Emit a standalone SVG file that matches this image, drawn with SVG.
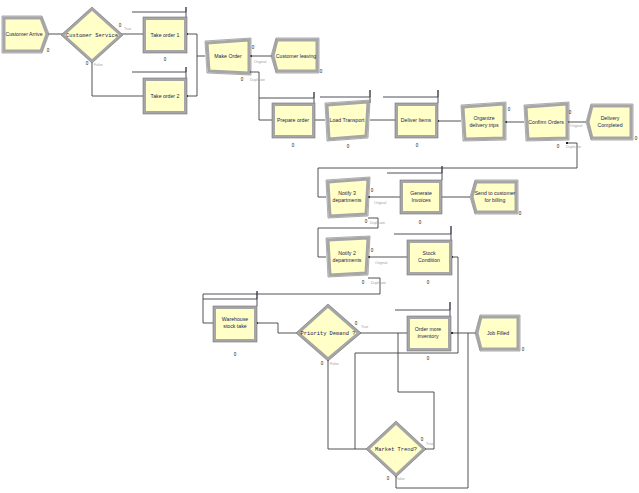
<svg xmlns="http://www.w3.org/2000/svg" width="639" height="493" viewBox="0 0 639 493">
<style>
.bg{fill:#ffffff}
.shp{fill:#FFFFC8;stroke:#a6a6a6;stroke-width:3;stroke-linejoin:miter}
.edge{fill:none;stroke:#767676;stroke-width:0.6}
.t{font-family:"Liberation Sans",Arial,sans-serif;font-size:5.2px;fill:#1c1c50;text-anchor:middle}
.dt{font-family:"Liberation Mono","Courier New",monospace;font-size:5.4px;fill:#1c1c50;text-anchor:middle}
.cnt{font-family:"Liberation Sans",Arial,sans-serif;font-size:4.5px;fill:#111;text-anchor:middle}
.lab{font-family:"Liberation Sans",Arial,sans-serif;font-size:3.6px;fill:#a0a0a0}
.c{fill:none;stroke:#404040;stroke-width:0.9}
.res{fill:none;stroke:#3a3a4a;stroke-width:0.9}
.pt{fill:#222}
</style>
<rect class="bg" x="0" y="0" width="639" height="493"/>

<g id="connectors">
<polyline class="c" points="48,34 63,34"/>
<polyline class="c" points="121,34 143,34"/>
<polyline class="c" points="92,62 92,96 143,96"/>
<polyline class="c" points="187,34 197,34 197,56 205,56"/>
<polyline class="c" points="187,96 197,96 197,56"/>
<polyline class="c" points="251,56 272,56"/>
<polyline class="c" points="250,72 259,72 259,120 272,120"/>
<polyline class="c" points="315,120 325,120"/>
<polyline class="c" points="370,120 395,120"/>
<polyline class="c" points="438,121 461,121"/>
<polyline class="c" points="506,122 524,122"/>
<polyline class="c" points="568,122 586,122"/>
<polyline class="c" points="567,143 577,143 577,168 318,168 318,197 326,197"/>
<polyline class="c" points="369,197 400,197"/>
<polyline class="c" points="442,197 470,197"/>
<polyline class="c" points="368,218 378,218 378,228 318,228 318,257 326,257"/>
<polyline class="c" points="370,257 407,257"/>
<polyline class="c" points="368,278 380,278 380,294 203,294 203,323 213,323"/>
<polyline class="c" points="257,323 278,323 278,333 297,333"/>
<polyline class="c" points="360,333 407,333"/>
<polyline class="c" points="328,360 328,449 367,449"/>
<polyline class="c" points="452,257 458,257 458,353 355,353 355,449"/>
<polyline class="c" points="452,333 476,333"/>
<polyline class="c" points="425,449 434,449 434,392 398,392 398,333"/>
<polyline class="c" points="396,476 396,488 468,488 468,333"/>
<!-- resource bars -->
<polyline class="res" points="132,12 186,12 186,7 186,17"/>
<polyline class="res" points="132,72 186,72 186,67 186,78"/>
<polyline class="res" points="259,98 314,98 314,92 314,103"/>
<polyline class="res" points="320,97 370,97 370,90 370,103"/>
<polyline class="res" points="383,97 438,97 438,90 438,103"/>
<polyline class="res" points="387,173 442,173 442,166 442,180"/>
<polyline class="res" points="394,234 451,234 451,226 451,240"/>
<polyline class="res" points="203,299 257,299 257,291 257,306"/>
<polyline class="res" points="395,310 450,310 450,302 450,316"/>
<!-- exit points -->
<rect class="pt" x="46" y="33" width="2" height="2"/>
<rect class="pt" x="186" y="33" width="2" height="2"/>
<rect class="pt" x="186" y="95" width="2" height="2"/>
<rect class="pt" x="250" y="55" width="2" height="2"/>
<rect class="pt" x="249" y="71" width="2" height="2"/>
<rect class="pt" x="313" y="119" width="2" height="2"/>
<rect class="pt" x="437" y="120" width="2" height="2"/>
<rect class="pt" x="505" y="121" width="2" height="2"/>
<rect class="pt" x="567" y="121" width="2" height="2"/>
<rect class="pt" x="566" y="142" width="2" height="2"/>
<rect class="pt" x="368" y="196" width="2" height="2"/>
<rect class="pt" x="368" y="256" width="2" height="2"/>
<rect class="pt" x="451" y="256" width="2" height="2"/>
<rect class="pt" x="256" y="322" width="2" height="2"/>
<rect class="pt" x="451" y="332" width="2" height="2"/>
<rect class="pt" x="359" y="332" width="2" height="2"/>
<rect class="pt" x="327" y="359" width="2" height="2"/>
<rect class="pt" x="424" y="448" width="2" height="2"/>
<rect class="pt" x="395" y="475" width="2" height="2"/>
</g>

<g id="customer-arrive">
<polygon class="shp" points="4,18 41,18 47,34 41,51 4,51"/>
<polygon class="edge" points="2,16 42,16 49,34 42,53 2,53"/>
<text class="t" x="24" y="36">Customer Arrive</text>
<text class="cnt" x="48" y="52">0</text>
</g>

<g id="customer-service">
<polygon class="shp" points="92,9 121,35 92,61 63,35"/>
<polygon class="edge" points="92,7 123,35 92,63 61,35"/>
<text class="dt" x="92" y="37">Customer Service</text>
<text class="cnt" x="120" y="27">0</text>
<text class="lab" x="124" y="30">True</text>
<text class="cnt" x="87" y="65">0</text>
<text class="lab" x="94" y="66">False</text>
</g>

<g id="take-order-1">
<rect class="shp" x="144.5" y="18.5" width="41" height="33"/>
<rect class="edge" x="143" y="17" width="44" height="36"/>
<text class="t" x="165" y="37">Take order 1</text>
<text class="cnt" x="165" y="61">0</text>
</g>

<g id="take-order-2">
<rect class="shp" x="144.5" y="79.5" width="41" height="33"/>
<rect class="edge" x="143" y="78" width="44" height="36"/>
<text class="t" x="165" y="98">Take order 2</text>
</g>

<g id="make-order">
<polygon class="shp" points="207,43 249,40 249,73 209,71"/>
<polygon class="edge" points="205,41 251,38 251,75 207,73"/>
<text class="t" x="228" y="58">Make Order</text>
<text class="cnt" x="253" y="49">0</text>
<text class="lab" x="254" y="63">Original</text>
<text class="cnt" x="242" y="81">0</text>
<text class="lab" x="250" y="81">Duplicate</text>
</g>

<g id="customer-leaving">
<polygon class="shp" points="277,40 317,40 317,71 277,71 273,56"/>
<polygon class="edge" points="276,38 319,38 319,73 276,73 271,56"/>
<text class="t" x="296" y="58">Customer leaving</text>
<text class="cnt" x="321" y="73">0</text>
</g>

<g id="prepare-order">
<rect class="shp" x="273.5" y="104.5" width="40" height="32"/>
<rect class="edge" x="272" y="103" width="43" height="35"/>
<text class="t" x="293" y="122">Prepare order</text>
<text class="cnt" x="293" y="147">0</text>
</g>

<g id="load-transport">
<polygon class="shp" points="327,105 368,102 366,136 329,139"/>
<polygon class="edge" points="325,103 370,100 368,138 327,141"/>
<text class="t" x="347" y="122">Load Transport</text>
<text class="cnt" x="348" y="148">0</text>
</g>

<g id="deliver-items">
<rect class="shp" x="396.5" y="104.5" width="40" height="32"/>
<rect class="edge" x="395" y="103" width="43" height="35"/>
<text class="t" x="416" y="122">Deliver Items</text>
<text class="cnt" x="417" y="147">0</text>
</g>

<g id="organize-delivery-trips">
<polygon class="shp" points="463,107 504,104 504,138 465,139"/>
<polygon class="edge" points="461,105 506,102 506,140 463,141"/>
<text class="t" x="484" y="120">Organize</text>
<text class="t" x="484" y="127">delivery trips</text>
<text class="cnt" x="509" y="111">0</text>
</g>

<g id="confirm-orders">
<polygon class="shp" points="526,107 567,104 567,138 528,139"/>
<polygon class="edge" points="524,105 569,102 569,140 526,141"/>
<text class="t" x="546" y="124">Confirm Orders</text>
<text class="cnt" x="570" y="114">0</text>
<text class="lab" x="570" y="127">Original</text>
<text class="cnt" x="558" y="148">0</text>
<text class="lab" x="566" y="148">Duplicate</text>
</g>

<g id="delivery-completed">
<polygon class="shp" points="592,106 631,106 631,138 592,138 588,122"/>
<polygon class="edge" points="591,104 633,104 633,140 591,140 586,122"/>
<text class="t" x="610" y="120">Delivery</text>
<text class="t" x="610" y="127">Completed</text>
<text class="cnt" x="636" y="140">0</text>
</g>

<g id="notify-3-departments">
<polygon class="shp" points="328,182 368,179 366,214 330,216"/>
<polygon class="edge" points="326,180 370,177 368,216 328,218"/>
<text class="t" x="347" y="195">Notify 3</text>
<text class="t" x="347" y="202">departments</text>
<text class="cnt" x="372" y="192">0</text>
<text class="lab" x="374" y="204">Original</text>
<text class="cnt" x="366" y="223">0</text>
<text class="lab" x="370" y="224">Duplicate</text>
</g>

<g id="generate-invoices">
<rect class="shp" x="401.5" y="181.5" width="39" height="31"/>
<rect class="edge" x="400" y="180" width="42" height="34"/>
<text class="t" x="421" y="195">Generate</text>
<text class="t" x="421" y="202">Invoices</text>
<text class="cnt" x="420" y="224">0</text>
</g>

<g id="send-to-customer">
<polygon class="shp" points="476,182 516,182 516,212 476,212 472,197"/>
<polygon class="edge" points="475,180 518,180 518,214 475,214 470,197"/>
<text class="t" x="495" y="195">Send to customer</text>
<text class="t" x="495" y="202">for billing</text>
<text class="cnt" x="520" y="215">0</text>
</g>

<g id="notify-2-departments">
<polygon class="shp" points="328,240 368,238 366,273 330,275"/>
<polygon class="edge" points="326,238 370,236 368,275 328,277"/>
<text class="t" x="347" y="255">Notify 2</text>
<text class="t" x="347" y="262">departments</text>
<text class="cnt" x="372" y="252">0</text>
<text class="lab" x="375" y="264">Original</text>
<text class="cnt" x="363" y="284">0</text>
<text class="lab" x="371" y="284">Duplicate</text>
</g>

<g id="stock-condition">
<rect class="shp" x="408.5" y="241.5" width="42" height="32"/>
<rect class="edge" x="407" y="240" width="45" height="35"/>
<text class="t" x="429" y="255">Stock</text>
<text class="t" x="429" y="262">Condition</text>
<text class="cnt" x="428" y="284">0</text>
</g>

<g id="warehouse-stock-take">
<rect class="shp" x="214.5" y="307.5" width="41" height="33"/>
<rect class="edge" x="213" y="306" width="44" height="36"/>
<text class="t" x="235" y="321">Warehouse</text>
<text class="t" x="235" y="328">stock take</text>
<text class="cnt" x="235" y="356">0</text>
</g>

<g id="priority-demand">
<polygon class="shp" points="328,306 359,333 328,359 298,333"/>
<polygon class="edge" points="328,304 361,333 328,361 296,333"/>
<text class="dt" x="328" y="335">Priority Demand ?</text>
<text class="cnt" x="356" y="325">0</text>
<text class="lab" x="361" y="328">True</text>
<text class="cnt" x="322" y="365">0</text>
<text class="lab" x="330" y="365">False</text>
</g>

<g id="order-more-inventory">
<rect class="shp" x="408.5" y="317.5" width="41" height="32"/>
<rect class="edge" x="407" y="316" width="44" height="35"/>
<text class="t" x="428" y="331">Order more</text>
<text class="t" x="428" y="338">inventory</text>
<text class="cnt" x="428" y="360">0</text>
</g>

<g id="job-filled">
<polygon class="shp" points="481,317 518,317 518,349 481,349 477,333"/>
<polygon class="edge" points="480,315 520,315 520,351 480,351 475,333"/>
<text class="t" x="498" y="335">Job Filled</text>
<text class="cnt" x="523" y="351">0</text>
</g>

<g id="market-trend">
<polygon class="shp" points="396,423 424,449 396,475 368,449"/>
<polygon class="edge" points="396,421 426,449 396,477 366,449"/>
<text class="dt" x="396" y="451">Market Trend?</text>
<text class="cnt" x="422" y="441">0</text>
<text class="lab" x="426" y="445">True</text>
<text class="cnt" x="388" y="480">0</text>
<text class="lab" x="396" y="480">False</text>
</g>
</svg>
